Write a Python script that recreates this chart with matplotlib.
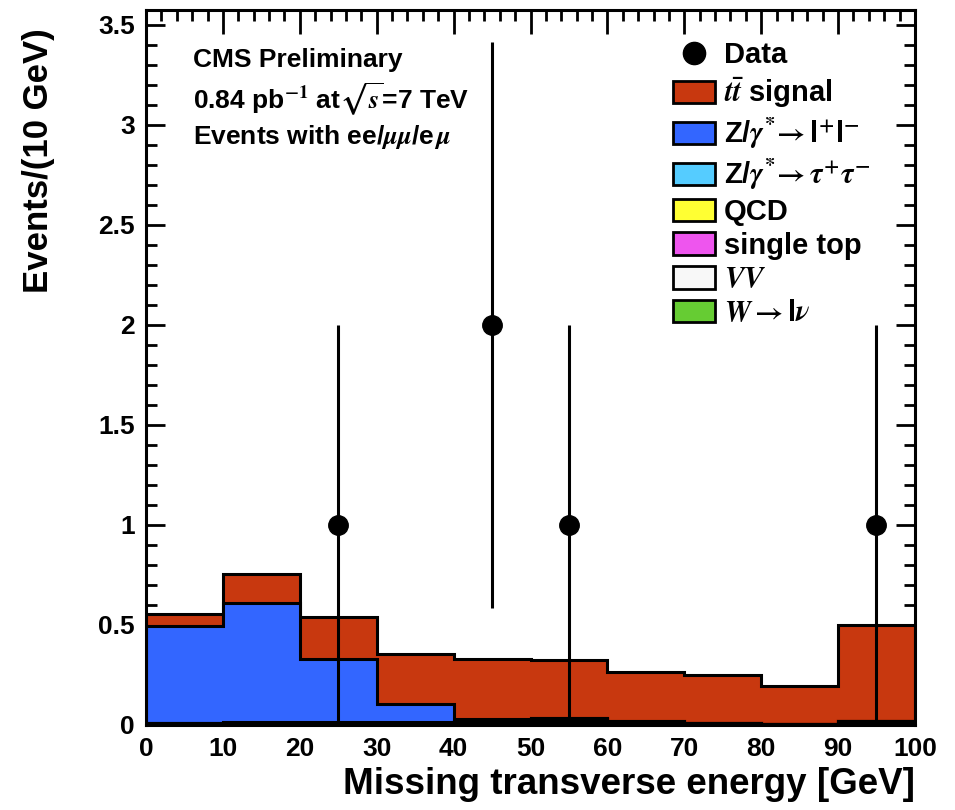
import matplotlib
matplotlib.use("Agg")
import matplotlib.pyplot as plt
from matplotlib.patches import Patch
from matplotlib.lines import Line2D
from matplotlib.ticker import MultipleLocator
import numpy as np

plt.rcParams['font.family'] = ['Liberation Sans', 'DejaVu Sans']
plt.rcParams['font.weight'] = 'bold'
plt.rcParams['mathtext.fontset'] = 'stix'

# MET histogram, 10 GeV bins
edges = np.arange(0, 101, 10)
wlnu = [0.002, 0.002, 0.002, 0.002, 0.003, 0.005, 0.003, 0.002, 0.001, 0.003]
vv = [0.003, 0.003, 0.004, 0.004, 0.006, 0.010, 0.006, 0.003, 0.002, 0.007]
single_top = [0.003, 0.004, 0.005, 0.006, 0.008, 0.015, 0.008, 0.004, 0.002, 0.008]
qcd = [0, 0, 0, 0, 0, 0, 0, 0, 0, 0]
z_tautau = [0.003, 0.004, 0.004, 0.003, 0.003, 0.005, 0.002, 0.002, 0.0, 0.004]
z_ll = [0.484, 0.597, 0.315, 0.090, 0.008, 0, 0, 0, 0, 0]
ttbar = [0.060, 0.145, 0.210, 0.250, 0.302, 0.290, 0.246, 0.239, 0.190, 0.478]

data_x = [25, 45, 55, 95]
data_y = [1, 2, 1, 1]

labels = ["$W\\rightarrow$l$\\nu$", "$VV$", "single top", "QCD",
          "Z/$\\gamma^{*}\\!\\rightarrow\\tau^{+}\\tau^{-}$",
          "Z/$\\gamma^{*}\\!\\rightarrow$l$^{+}$l$^{-}$",
          "$t\\bar{t}$ signal"]
colors = ['#66CC33', '#F8F8F8', '#EE55EE', '#FFFF33', '#55CCFF', '#3366FF', '#C8380F']
stack = [wlnu, vv, single_top, qcd, z_tautau, z_ll, ttbar]

fig = plt.figure(figsize=(9.55, 8.1), dpi=100)
ax = fig.add_axes([0.153, 0.105, 0.805, 0.883])

cum = np.cumsum(np.array(stack, dtype=float), axis=0)
# draw the tallest total first so each lower component sits on top
for i in range(len(stack) - 1, -1, -1):
    ax.stairs(cum[i], edges, fill=True, facecolor=colors[i], edgecolor='none', zorder=2)
    ax.stairs(cum[i], edges, color='black', lw=2.2, zorder=2)

err = np.sqrt(np.array(data_y, dtype=float))
ax.errorbar(data_x, data_y, yerr=err, fmt='o', color='black', ms=14,
            elinewidth=2.2, capsize=0, zorder=5, clip_on=True)

ax.set_xlim(0, 100)
ax.set_ylim(0, 3.575)
ax.xaxis.set_major_locator(MultipleLocator(10))
ax.xaxis.set_minor_locator(MultipleLocator(2))
ax.yaxis.set_major_locator(MultipleLocator(0.5))
ax.yaxis.set_minor_locator(MultipleLocator(0.1))
ax.yaxis.set_major_formatter(plt.FuncFormatter(lambda v, p: f"{v:g}"))
ax.tick_params(which='both', direction='in', top=True, right=True, width=2,
               labelsize=19, zorder=6)
ax.tick_params(axis='x', which='major', length=17, pad=9)
ax.tick_params(axis='x', which='minor', length=8)
ax.tick_params(axis='y', which='major', length=14, pad=8)
ax.tick_params(axis='y', which='minor', length=8)
for s in ax.spines.values():
    s.set_linewidth(2.2)
    s.set_zorder(7)

ax.set_xlabel("Missing transverse energy [GeV]", fontsize=26.5, fontweight='bold',
              loc='right', labelpad=4)
ax.set_ylabel("Events/(10 GeV)", fontsize=25, fontweight='bold', loc='top')
ax.yaxis.set_label_coords(-0.118, 0.974)

ax.text(0.061, 0.93, "CMS Preliminary", transform=ax.transAxes, fontsize=19, va='center')
ax.text(0.061, 0.875, "0.84 pb$^{-1}$ at$\\sqrt{s}$=7 TeV", transform=ax.transAxes,
        fontsize=19, va='center')
ax.text(0.061, 0.822, "Events with ee/$\\mu\\mu$/e$\\,\\mu$", transform=ax.transAxes,
        fontsize=19, va='center')

handles = [Line2D([], [], marker='o', color='black', ls='none', ms=16)]
leg_labels = ["Data"]
for i in range(len(stack) - 1, -1, -1):
    handles.append(Patch(facecolor=colors[i], edgecolor='black', lw=2))
    leg_labels.append(labels[i])
leg = ax.legend(handles, leg_labels, loc='upper left', bbox_to_anchor=(0.67, 0.972),
                frameon=False, fontsize=21, handlelength=1.45, handleheight=0.8,
                handletextpad=0.3, labelspacing=0.2, borderaxespad=0)

fig.savefig("out.png", dpi=100)
